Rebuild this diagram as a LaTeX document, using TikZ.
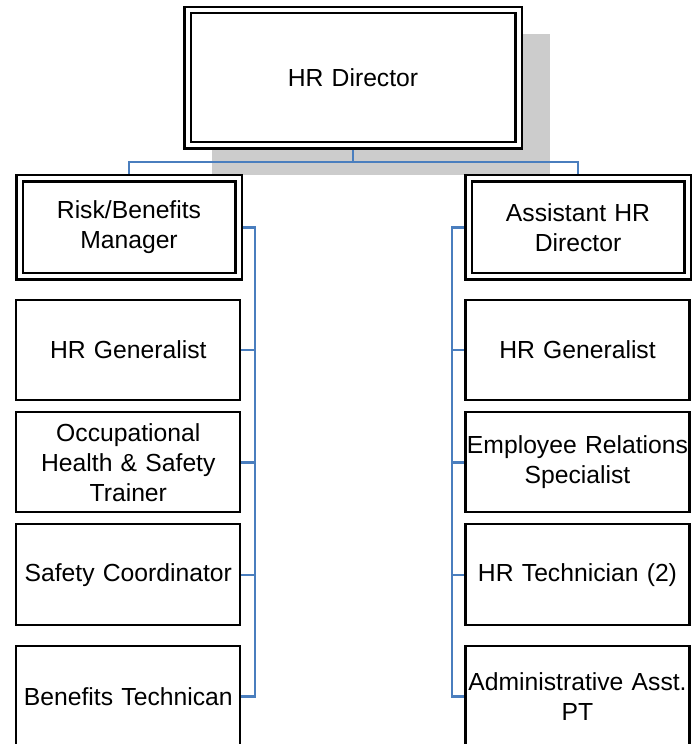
\documentclass[tikz,border=0pt]{standalone}
\usepackage{fontspec}
\setmainfont{Liberation Sans}
\usetikzlibrary{backgrounds}
\definecolor{linkblue}{RGB}{74,126,190}
\definecolor{shadowgray}{RGB}{204,204,204}
\begin{document}
\begin{tikzpicture}[x=1pt,y=-1pt,
  every node/.style={font=\fontsize{24.7}{30}\selectfont},
  posbox/.style={draw=black, line width=2.2pt, fill=white, inner sep=0pt,
    minimum width=224pt, minimum height=101pt, text width=224pt, align=center},
  headbox/.style={draw=black, double=white, line width=2.2pt, double distance=4pt,
    fill=white, inner sep=0pt, minimum width=219pt, minimum height=98pt,
    text width=210pt, align=center},
  link/.style={draw=linkblue, line width=2.4pt}]
\useasboundingbox (0,0) rectangle (692,744);

% top of the chart
\node[headbox, minimum width=331pt, minimum height=135.5pt, text width=320pt] (hrd) at (353,77.7) {HR Director};
\node[headbox] (rbm) at (129,227.3) {Risk/Benefits\\Manager};
\node[headbox] (ahr) at (578,227.3) {Assistant HR\\Director};

% left column
\node[posbox, minimum height=100pt] (l1) at (128.3,349.7) {HR Generalist};
\node[posbox, minimum height=100pt] (l2) at (128.3,462.3) {Occupational\\Health \& Safety\\Trainer};
\node[posbox] (l3) at (128.3,574.8) {Safety Coordinator};
\node[posbox] (l4) at (128.3,696.5) {Benefits Technican};

% right column
\node[posbox, minimum height=100pt] (r1) at (577.5,349.7) {HR Generalist};
\node[posbox, minimum height=100pt] (r2) at (577.5,462.3) {Employee Relations\\Specialist};
\node[posbox] (r3) at (577.5,574.8) {HR Technician (2)};
\node[posbox] (r4) at (577.5,696.5) {Administrative Asst.\\PT};

% bus positions
\coordinate (bus) at (353,161.7);
\coordinate (lx) at (255,0);
\coordinate (rx) at (451.7,0);

\begin{pgfonlayer}{background}
  % drop shadow behind the director box
  \fill[shadowgray] (212,34) rectangle (550,175);
  % director to the two managers
  \draw[link] (hrd.south) -- (bus);
  \draw[link] (rbm.north) |- (bus) -| (ahr.north);
  % left branch
  \draw[link] (rbm.east) -| (lx |- l4.east) -- (l4.east);
  \foreach \n in {l1,l2,l3} \draw[link] (lx |- \n.east) -- (\n.east);
  % right branch
  \draw[link] (ahr.west) -| (rx |- r4.west) -- (r4.west);
  \foreach \n in {r1,r2,r3} \draw[link] (rx |- \n.west) -- (\n.west);
\end{pgfonlayer}
\end{tikzpicture}
\end{document}
